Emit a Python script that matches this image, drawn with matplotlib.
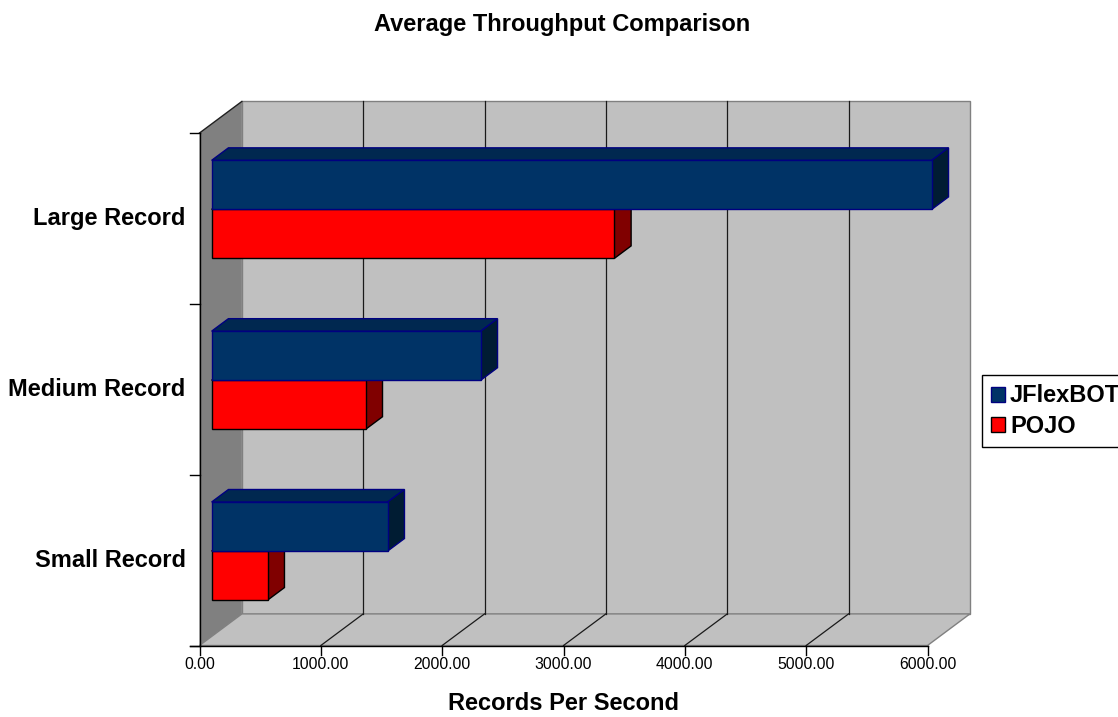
import matplotlib
matplotlib.use("Agg")
import matplotlib.pyplot as plt
from matplotlib.patches import Patch

# data
categories = ["Small Record", "Medium Record", "Large Record"]
series = ["JFlexBOT", "POJO"]
jflexbot = [1451, 2218, 5935]
pojo = [462, 1270, 3319]
xticks = [0, 1000, 2000, 3000, 4000, 5000, 6000]

FRONT = {"JFlexBOT": "#003366", "POJO": "#FF0000"}
TOP = {"JFlexBOT": "#002850", "POJO": "#B00000"}
SIDE = {"JFlexBOT": "#001C33", "POJO": "#800000"}
EDGE = {"JFlexBOT": "#000080", "POJO": "#000000"}

plt.rcParams["font.family"] = ["Liberation Sans", "DejaVu Sans"]

W, H = 1118, 717
fig = plt.figure(figsize=(W / 100, H / 100), dpi=100)
ax = fig.add_axes([0, 0, 1, 1])
ax.axis("off")

# pixel geometry of the front plane: value 0 at x=199.5, 6000 at x=927.5;
# category 0 at y=645.5 (from top), 3 at y=133
KX = 728 / 6000.0
KY = 512.5 / 3.0
X0, Y0 = 199.5, H - 645.5
ax.set_xlim(-X0 / KX, (W - X0) / KX)
ax.set_ylim(-Y0 / KY, (H - Y0) / KY)

# oblique depth offset of the full plot box, in data units
DX = 42.4 / KX
DY = 31.6 / KY
XMAX = xticks[-1]
NCAT = len(categories)


def P(x, y, d):
    return (x + d * DX, y + d * DY)


def poly(pts, fc, ec="none", lw=0.0, z=1):
    xs, ys = zip(*pts)
    ax.fill(xs, ys, fc=fc, ec=ec, lw=lw, zorder=z)


# walls and floor
poly([P(0, 0, 0), P(0, NCAT, 0), P(0, NCAT, 1), P(0, 0, 1)], "#808080", z=1)
poly([P(0, 0, 1), P(XMAX, 0, 1), P(XMAX, NCAT, 1), P(0, NCAT, 1)], "#C0C0C0",
     ec="#808080", lw=1.0, z=1)
poly([P(0, 0, 0), P(XMAX, 0, 0), P(XMAX, 0, 1), P(0, 0, 1)], "#C0C0C0",
     ec="#808080", lw=1.0, z=1)

# gridlines on the back wall and floor
for t in xticks[1:-1]:
    ax.plot(*zip(P(t, 0, 1), P(t, NCAT, 1)), color="#1a1a1a", lw=0.9, zorder=2)
    ax.plot(*zip(P(t, 0, 0), P(t, 0, 1)), color="#1a1a1a", lw=0.9, zorder=2)
ax.plot(*zip(P(0, NCAT, 0), P(0, NCAT, 1)), color="#202020", lw=1.0, zorder=2)

# axis lines and ticks
tlx = 10 / KX
tly = 9.5 / KY
ax.plot([0, 0], [0, NCAT], color="black", lw=1.0, zorder=3)
ax.plot([-tlx, XMAX], [0, 0], color="black", lw=1.0, zorder=3)
for k in range(NCAT + 1):
    ax.plot([-tlx, 0], [k, k], color="black", lw=1.0, zorder=3)
for t in xticks:
    ax.plot([t, t], [0, -tly], color="black", lw=1.0, zorder=3)
    ax.text(t, -tly - 2 / KY, f"{t:.2f}", ha="center", va="top", fontsize=11.3,
            color="black")

for k, name in enumerate(categories):
    ax.text(-14 / KX, k + 0.5, name, ha="right", va="center", fontsize=17,
            fontweight="bold")

# 3-D bars
D0, D1 = 0.286, 0.682
BH = 0.287
for k in range(NCAT):
    c = k + 0.5
    for name, vals, base in (("POJO", pojo, c - BH), ("JFlexBOT", jflexbot, c)):
        v = vals[k]
        top = base + BH
        poly([P(0, top, D0), P(v, top, D0), P(v, top, D1), P(0, top, D1)],
             TOP[name], ec=EDGE[name], lw=1.0, z=5)
        poly([P(v, base, D0), P(v, base, D1), P(v, top, D1), P(v, top, D0)],
             SIDE[name], ec=EDGE[name], lw=1.0, z=5)
        ax.barh(base + D0 * DY, v, height=BH, left=D0 * DX, align="edge",
                color=FRONT[name], edgecolor=EDGE[name], lw=1.0, zorder=6)

fig.text(562 / W, 1 - 24 / H, "Average Throughput Comparison", ha="center",
         va="center", fontsize=17, fontweight="bold")
fig.text(563 / W, 1 - 710 / H, "Records Per Second", ha="center",
         va="baseline", fontsize=17, fontweight="bold")

handles = [Patch(fc=FRONT[s], ec=EDGE[s], lw=1.0) for s in series]
leg = fig.legend(handles, series, loc="upper left",
                 bbox_to_anchor=(981.7 / W, 1 - 375 / H), borderaxespad=0,
                 frameon=True, fancybox=False, edgecolor="black", framealpha=1,
                 handlelength=0.6, handleheight=0.6, handletextpad=0.2,
                 borderpad=0.4, labelspacing=0.3,
                 prop={"size": 17, "weight": "bold"})
leg.get_frame().set_linewidth(1.0)

fig.savefig("out.png", dpi=100)
